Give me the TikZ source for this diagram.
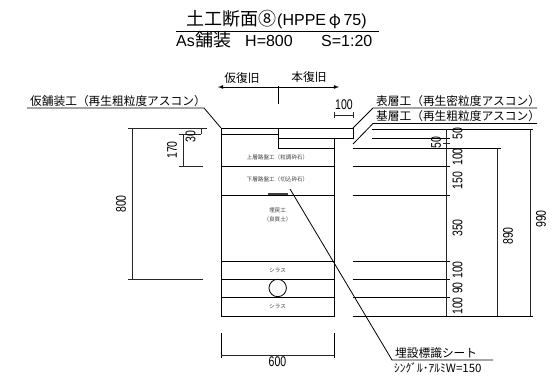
\documentclass[tikz,border=0pt]{standalone}
\usepackage{fontspec}
\setmainfont{Liberation Sans}
\newfontfamily\jpfont{Noto Sans CJK JP}
\newfontfamily\narrowfont[FakeStretch=0.75]{Liberation Sans}
\tikzset{
	dimline/.style={line width=0.8pt, black!85},
	wall/.style={line width=0.8pt, black},
	dimtext/.style={inner sep=0pt, font=\fontsize{14}{14}\narrowfont},
	dimtextv/.style={inner sep=0pt, rotate=90, font=\fontsize{14}{14}\narrowfont},
	calltext/.style={inner sep=0pt, anchor=base west, font=\fontsize{11.7}{12}\jpfont},
	layertext/.style={inner sep=0pt, black!75, font=\fontsize{5.6}{6}\jpfont},
	titletext/.style={inner sep=0pt, anchor=base west, font=\fontsize{18}{18}\jpfont},
	latintext/.style={inner sep=0pt, anchor=base west, font=\fontsize{16}{16}\selectfont}
}
\begin{document}
\begin{tikzpicture}[x=1pt, y=-1pt]
	\useasboundingbox (0,0) rectangle (554,379);

	% title
	\node[titletext] (titleA) at (186,26) {土工断面⑧};
	\node[latintext] (titleB) at (277,26) {(HPPE\,{\jpfont φ}\,75)};
	\coordinate (titleL) at (176,31.5);
	\coordinate (titleR) at (379,31.5);
	\draw[wall] (titleL)--(titleR);
	\node[latintext] (subA) at (176,47) {As};
	\node[titletext] (subB) at (195,47) {舗装};
	\node[latintext] (subC) at (245,47) {H=800};
	\node[latintext] (subD) at (321,47) {S=1:20};

	% section
	\coordinate (A) at (221,128);
	\coordinate (B) at (353,128);
	\coordinate (C) at (353,138);
	\coordinate (D) at (334,138);
	\coordinate (E) at (278,138);
	\coordinate (F) at (278,128);
	\coordinate (G) at (221,316);
	\coordinate (H) at (334,316);
	\draw[wall] (A)--(B)--(C)--(E);
	\draw[wall] (F)--(278,148)--(334,148);
	\draw[wall] (221,134)--(278,134);
	\draw[wall] (A)--(G)--(H)--(D);
	\foreach \y in {166,195,261,279.5,297}
		\draw[wall] (221,\y)--(334,\y);
	\draw[line width=2pt, black!75] (268,194)--(288,194);
	\draw[wall] (277.7,288) circle (8.7);

	\node[layertext] (joso) at (277.5,157) {上層路盤工（粒調砕石）};
	\node[layertext] (kaso) at (277.5,179) {下層路盤工（切込砕石）};
	\node[layertext] (umeA) at (277.5,210) {埋戻工};
	\node[layertext] (umeB) at (277.5,219) {（良質土）};
	\node[layertext] (sirasuA) at (277.5,270) {シラス};
	\node[layertext] (sirasuB) at (277.5,306.5) {シラス};

	% callouts
	\node[calltext] (kari) at (30,106) {仮舗装工（再生粗粒度アスコン）};
	\draw[wall] (27,108)--(204,108)--(A);
	\node[calltext] (hyo) at (376,105.5) {表層工（再生密粒度アスコン）};
	\draw[wall] (537,108)--(373,108)--(B);
	\node[calltext] (ki) at (376,121) {基層工（再生粗粒度アスコン）};
	\draw[wall] (537,123.5)--(373,123.5)--(353,144);
	\node[calltext] (sheetA) at (395,357) {埋設標識シート};
	\draw[wall] (290,189)--(392,360)--(493,360);
	\node[inner sep=0pt, anchor=base west, font=\fontsize{11.5}{12}\jpfont] (sheetB) at (394,372) {ｼﾝｸﾞﾙ･ｱﾙﾐW=150};

	% top dims
	\draw[wall] (278,86)--(278,104);
	\draw[wall, -latex] (278,87)--(218,87);
	\draw[wall, -latex] (278,87)--(339,87);
	\node[inner sep=0pt, font=\fontsize{11.7}{12}\jpfont] (karifuku) at (242,78) {仮復旧};
	\node[inner sep=0pt, font=\fontsize{11.7}{12}\jpfont] (honfuku) at (309,77) {本復旧};
	\draw[dimline] (334,112)--(334,118);
	\draw[dimline] (353.5,112)--(353.5,118);
	\draw[dimline] (334,115)--(353.5,115);
	\node[dimtext] (dimhundred) at (344,105) {100};

	% left dims
	\draw[dimline] (128,128)--(207,128);
	\draw[dimline] (128,279.5)--(203,279.5);
	\draw[dimline] (132,128)--(132,279.5);
	\node[dimtextv] (dimH) at (121,204) {800};
	\draw[dimline] (179,134)--(201,134);
	\draw[dimline] (179,166)--(203,166);
	\draw[dimline] (183,134)--(183,166);
	\draw[dimline] (201,128)--(201,134);
	\node[dimtextv] (dimA) at (172,150) {170};
	\node[dimtextv] (dimB) at (190.5,137) {30};

	% right dims
	\draw[wall] (372,129)--(533,129);
	\draw[wall] (372,138)--(450,138);
	\draw[wall] (353,148)--(501,148);
	\foreach \y in {166,195,261,279.5,297}
		\draw[wall] (353,\y)--(450,\y);
	\draw[wall] (353,316)--(533,316);
	\draw[dimline] (446,129)--(446,316);
	\draw[dimline] (497,148)--(497,316);
	\draw[dimline] (530,129)--(530,316);
	\draw[dimline] (443,143)--(450,143);
	\node[dimtextv] (dimC) at (436,143) {50};
	\node[dimtextv] (dimD) at (457.5,133.5) {50};
	\node[dimtextv] (dimE) at (457.5,157) {100};
	\node[dimtextv] (dimF) at (457.5,180.5) {150};
	\node[dimtextv] (dimG) at (457.5,228) {350};
	\node[dimtextv] (dimI) at (457.5,270) {100};
	\node[dimtextv] (dimJ) at (457.5,288) {90};
	\node[dimtextv] (dimK) at (457.5,306) {100};
	\node[dimtextv] (dimL) at (508,236) {890};
	\node[dimtextv] (dimM) at (541,219) {990};

	% bottom dim
	\draw[wall] (221,333)--(221,358);
	\draw[wall] (334,333)--(334,358);
	\draw[dimline] (221,355)--(334,355);
	\node[dimtext] (dimN) at (277.5,362) {600};
\end{tikzpicture}
\end{document}
